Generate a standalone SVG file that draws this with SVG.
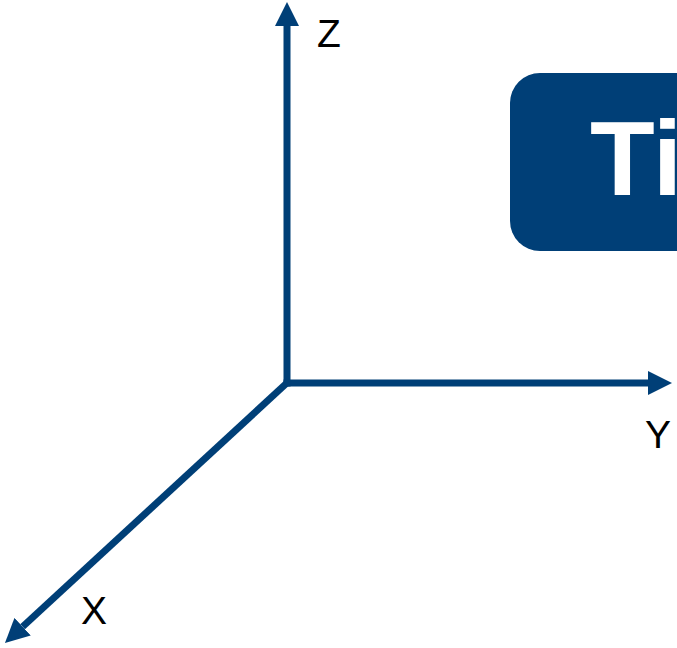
<svg xmlns="http://www.w3.org/2000/svg" width="677" height="648" viewBox="0 0 677 648">
<defs>
<style>
.axis{stroke:#003f77;stroke-width:7;fill:none;marker-end:url(#ah)}
.lbl{font-family:"Liberation Sans",Arial,sans-serif;font-size:39px;fill:#000}
.ttl{font-family:"Liberation Sans",Arial,sans-serif;font-size:106px;font-weight:bold;fill:#fff}
</style>
<marker id="ah" markerUnits="userSpaceOnUse" markerWidth="24" markerHeight="24" viewBox="0 0 24 24" refX="0" refY="12" orient="auto">
<path d="M0,0 L24,12 L0,24 Z" fill="#003f77"/>
</marker>
</defs>
<rect width="677" height="648" fill="#fff"/>
<g id="connectors">
<line class="axis" x1="287" y1="386.5" x2="287" y2="26"/>
<line class="axis" x1="283.5" y1="383" x2="648" y2="383"/>
<line class="axis" x1="289" y1="381" x2="22.6" y2="626.7"/>
</g>
<g id="title">
<rect x="510" y="73" width="220" height="178" rx="30" fill="#003f77"/>
<text class="ttl" x="590" y="195">Ti</text>
</g>
<g id="label-z"><text class="lbl" x="317" y="47">Z</text></g>
<g id="label-y"><text class="lbl" x="645" y="448">Y</text></g>
<g id="label-x"><text class="lbl" x="81" y="624">X</text></g>
</svg>
